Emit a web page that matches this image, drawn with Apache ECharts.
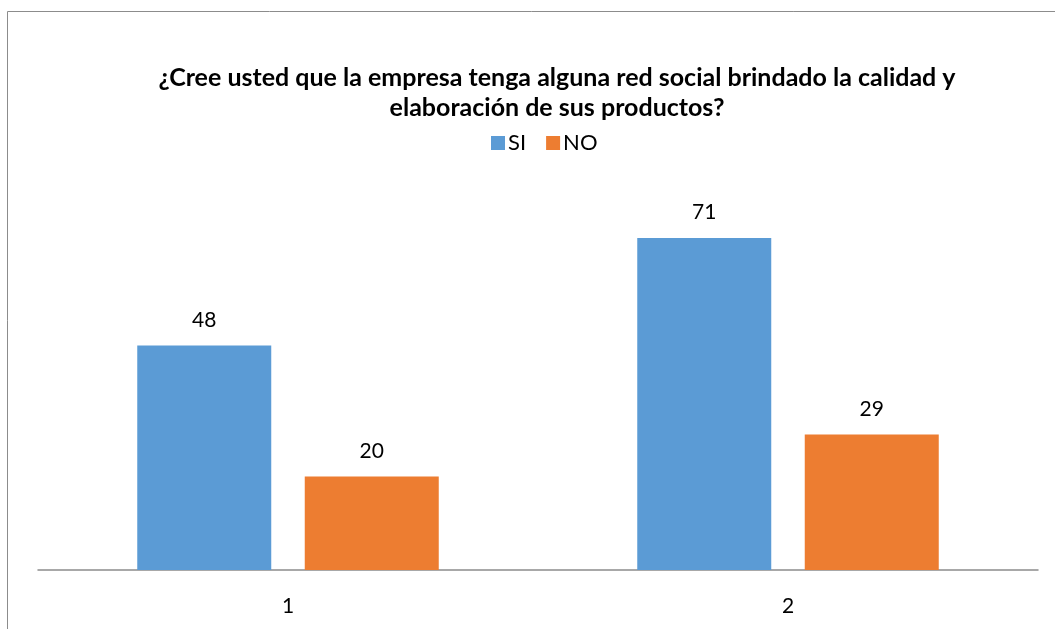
<!DOCTYPE html>
<html>
<head>
<meta charset="utf-8">
<script src="https://cdn.jsdelivr.net/npm/echarts@6/dist/echarts.min.js"></script>
<style>
  html, body { margin: 0; padding: 0; background: #fff; }
  #main { width: 1055px; height: 629px; }
</style>
</head>
<body>
<div id="main"></div>
<script>
// datos
var categorias = ["1", "2"];
var valoresSi = [48, 71];
var valoresNo = [20, 29];

var myChart = echarts.init(document.getElementById("main"));
myChart.setOption({
  animation: false,
  textStyle: { fontFamily: "Lato, 'Open Sans', sans-serif" },
  title: {
    text: "¿Cree usted que la empresa tenga alguna red social brindado la calidad y\nelaboración de sus productos?",
    left: 552,
    top: 58,
    textAlign: "center",
    textStyle: { fontSize: 25, fontWeight: "bold", color: "#000", lineHeight: 30, fontFamily: "Lato, sans-serif" }
  },
  legend: {
    data: ["SI", "NO"],
    left: 486,
    top: 127,
    itemWidth: 14,
    itemHeight: 14,
    itemGap: 20,
    icon: "rect",
    textStyle: { fontSize: 22, color: "#000", padding: [0, 0, 0, -2] }
  },
  graphic: [
    {
      type: "polyline",
      shape: { points: [[7.5, 640], [7.5, 11.5], [1060, 11.5]] },
      style: { stroke: "#8c8c8c", lineWidth: 1, fill: null }
    }
  ],
  grid: { left: 38, right: 17, top: 196, bottom: 59 },
  xAxis: {
    type: "category",
    data: categorias,
    axisLine: { lineStyle: { color: "#8c8c8c", width: 1.5 } },
    axisTick: { show: false },
    axisLabel: { fontSize: 21, color: "#000", margin: 26 }
  },
  yAxis: {
    type: "value",
    min: 0,
    max: 80,
    show: false,
    splitLine: { show: false }
  },
  series: [
    {
      name: "SI",
      type: "bar",
      data: valoresSi,
      barWidth: 134,
      barGap: "25%",
      itemStyle: { color: "#5b9bd5" },
      label: { show: true, position: "top", distance: 15, fontSize: 21, color: "#000" }
    },
    {
      name: "NO",
      type: "bar",
      data: valoresNo,
      barWidth: 134,
      barGap: "25%",
      itemStyle: { color: "#ed7d31" },
      label: { show: true, position: "top", distance: 15, fontSize: 21, color: "#000" }
    }
  ]
});
</script>
</body>
</html>
